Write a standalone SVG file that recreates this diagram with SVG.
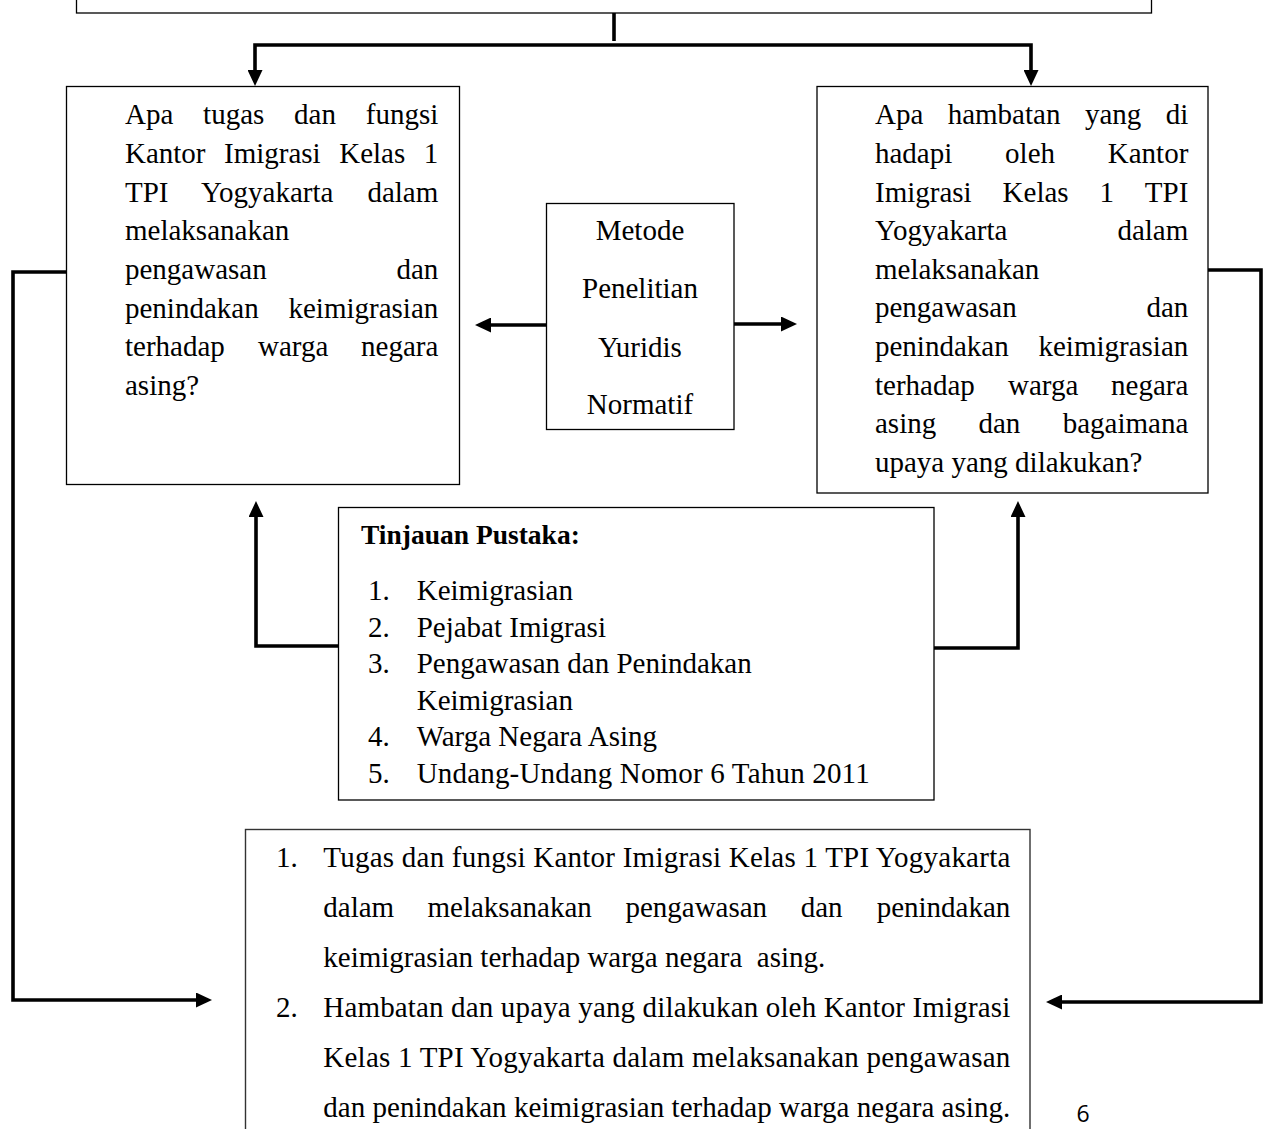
<svg xmlns="http://www.w3.org/2000/svg" width="1269" height="1129" viewBox="0 0 1269 1129">
<style>
.box{fill:#fff;stroke:#000;stroke-width:1.3}
.t{font-family:"Liberation Serif","Times New Roman",serif;font-size:29px;fill:#000}
.b{font-family:"Liberation Serif","Times New Roman",serif;font-size:27.5px;font-weight:bold;fill:#000}
.e{text-anchor:end}
.m{text-anchor:middle}
.c{fill:none;stroke:#000;stroke-width:3.6;stroke-linejoin:miter}
</style>
<defs>
<marker id="ah" viewBox="0 0 16 15" refX="6" refY="7.5" markerWidth="16" markerHeight="15" markerUnits="userSpaceOnUse" orient="auto-start-reverse">
<path d="M0,0 L16,7.5 L0,15 z" fill="#000"/>
</marker>
</defs>
<rect width="1269" height="1129" fill="#fff"/>

<g id="top-box">
<rect class="box" x="76.5" y="-10" width="1075" height="23"/>
</g>

<g id="connectors">
<path class="c" d="M614,13 V41" stroke-width="2.6"/>
<path class="c" d="M255,76 V45 H1031 V76" marker-start="url(#ah)" marker-end="url(#ah)"/>
<path class="c" d="M546,325 H485" marker-end="url(#ah)"/>
<path class="c" d="M734,324 H787" marker-end="url(#ah)"/>
<path class="c" d="M338,646 H256 V511" marker-end="url(#ah)"/>
<path class="c" d="M934,648 H1018 V511" marker-end="url(#ah)"/>
<path class="c" d="M66,272 H13 V1000 H202" marker-end="url(#ah)"/>
<path class="c" d="M1208,270 H1261 V1002 H1056" marker-end="url(#ah)"/>
</g>

<g id="question-1">
<rect class="box" x="66.5" y="86.5" width="393" height="398"/>
<text class="t" y="124.3"><tspan x="125">Apa</tspan><tspan x="203.1">tugas</tspan><tspan x="294.1">dan</tspan></text>
<text class="t e" x="438.3" y="124.3">fungsi</text>
<text class="t" y="163"><tspan x="125">Kantor</tspan><tspan x="224">Imigrasi</tspan><tspan x="339.2">Kelas</tspan></text>
<text class="t e" x="438.3" y="163">1</text>
<text class="t" y="201.6"><tspan x="125">TPI</tspan><tspan x="201">Yogyakarta</tspan></text>
<text class="t e" x="438.3" y="201.6">dalam</text>
<text class="t" x="125" y="240.3">melaksanakan</text>
<text class="t" x="125" y="279">pengawasan</text>
<text class="t e" x="438.3" y="279">dan</text>
<text class="t" x="125" y="317.6">penindakan</text>
<text class="t e" x="438.3" y="317.6">keimigrasian</text>
<text class="t" y="356.3"><tspan x="125">terhadap</tspan><tspan x="258">warga</tspan></text>
<text class="t e" x="438.3" y="356.3">negara</text>
<text class="t" x="125" y="395">asing?</text>
</g>

<g id="question-2">
<rect class="box" x="817" y="86.5" width="391" height="406.5"/>
<text class="t" y="124.3"><tspan x="875">Apa</tspan><tspan x="947.7">hambatan</tspan><tspan x="1084.9">yang</tspan></text>
<text class="t e" x="1188.3" y="124.3">di</text>
<text class="t" y="162.9"><tspan x="875">hadapi</tspan><tspan x="1005.1">oleh</tspan></text>
<text class="t e" x="1188.3" y="162.9">Kantor</text>
<text class="t" y="201.5"><tspan x="875">Imigrasi</tspan><tspan x="1002.6">Kelas</tspan><tspan x="1099.5">1</tspan></text>
<text class="t e" x="1188.3" y="201.5">TPI</text>
<text class="t" x="875" y="240.1">Yogyakarta</text>
<text class="t e" x="1188.3" y="240.1">dalam</text>
<text class="t" x="875" y="278.7">melaksanakan</text>
<text class="t" x="875" y="317.3">pengawasan</text>
<text class="t e" x="1188.3" y="317.3">dan</text>
<text class="t" x="875" y="355.9">penindakan</text>
<text class="t e" x="1188.3" y="355.9">keimigrasian</text>
<text class="t" y="394.5"><tspan x="875">terhadap</tspan><tspan x="1008">warga</tspan></text>
<text class="t e" x="1188.3" y="394.5">negara</text>
<text class="t" y="433.1"><tspan x="875">asing</tspan><tspan x="978.5">dan</tspan></text>
<text class="t e" x="1188.3" y="433.1">bagaimana</text>
<text class="t" x="875" y="471.7">upaya yang dilakukan?</text>
</g>

<g id="metode">
<rect class="box" x="546.5" y="203.5" width="187.5" height="226"/>
<text class="t m" x="640" y="240">Metode</text>
<text class="t m" x="640" y="298.3">Penelitian</text>
<text class="t m" x="640" y="356.7">Yuridis</text>
<text class="t m" x="640" y="414">Normatif</text>
</g>

<g id="tinjauan-pustaka">
<rect class="box" x="338.5" y="507.5" width="595.5" height="292.5"/>
<text class="b" x="361" y="544.3">Tinjauan Pustaka:</text>
<text class="t" x="368" y="600">1.</text><text class="t" x="416.7" y="600">Keimigrasian</text>
<text class="t" x="368" y="636.5">2.</text><text class="t" x="416.7" y="636.5">Pejabat Imigrasi</text>
<text class="t" x="368" y="673">3.</text><text class="t" x="416.7" y="673">Pengawasan dan Penindakan</text>
<text class="t" x="416.7" y="709.5">Keimigrasian</text>
<text class="t" x="368" y="746">4.</text><text class="t" x="416.7" y="746">Warga Negara Asing</text>
<text class="t" x="368" y="782.5">5.</text><text class="t" x="416.7" y="782.5" textLength="453" lengthAdjust="spacing">Undang-Undang Nomor 6 Tahun 2011</text>
</g>

<g id="kesimpulan">
<rect x="245.5" y="829.5" width="784.5" height="320" fill="#fff" stroke="#333" stroke-width="1.4"/>
<text class="t" x="276" y="866.7">1.</text>
<text class="t" x="323.3" y="866.7" textLength="687" lengthAdjust="spacing">Tugas dan fungsi Kantor Imigrasi Kelas 1 TPI Yogyakarta</text>
<text class="t" y="916.7"><tspan x="323.3">dalam</tspan><tspan x="427.5">melaksanakan</tspan><tspan x="625.4">pengawasan</tspan><tspan x="800.7">dan</tspan></text>
<text class="t e" x="1010.3" y="916.7">penindakan</text>
<text class="t" x="323.3" y="966.7" xml:space="preserve">keimigrasian terhadap warga negara  asing.</text>
<text class="t" x="276" y="1016.7">2.</text>
<text class="t" x="323.3" y="1016.7" textLength="687" lengthAdjust="spacing">Hambatan dan upaya yang dilakukan oleh Kantor Imigrasi</text>
<text class="t" x="323.3" y="1066.7" textLength="687" lengthAdjust="spacing">Kelas 1 TPI Yogyakarta dalam melaksanakan pengawasan</text>
<text class="t" x="323.3" y="1116.7" textLength="687" lengthAdjust="spacing">dan penindakan keimigrasian terhadap warga negara asing.</text>
</g>

<text x="1083" y="1122" font-family="'Open Sans','Liberation Sans',sans-serif" font-size="23" text-anchor="middle" fill="#000">6</text>
</svg>
